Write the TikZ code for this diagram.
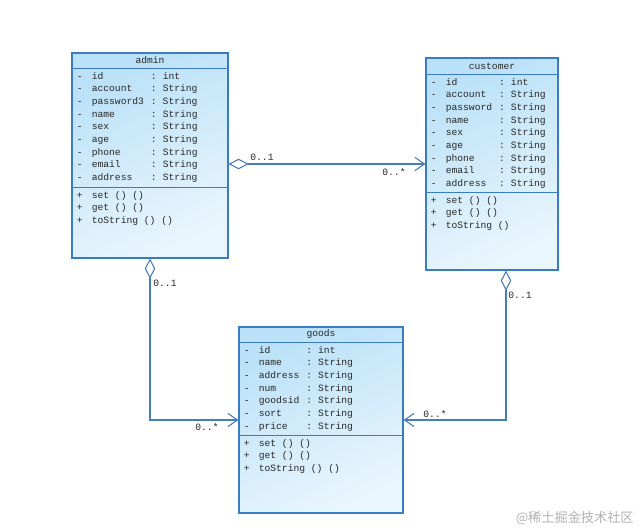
\documentclass[tikz,border=0pt]{standalone}
\usepackage{fontspec}
\setmonofont{Liberation Mono}
\newfontfamily\cjkfont{Noto Sans CJK SC}
\usetikzlibrary{positioning, arrows.meta}
\definecolor{umlblue}{RGB}{58,124,196}
\definecolor{umlfill}{RGB}{186,225,248}
\definecolor{umllight}{RGB}{234,246,253}
\definecolor{umltext}{RGB}{40,40,40}
\newenvironment{umlrows}{\begin{tabular}{@{}l@{\hspace{5.2pt}}l@{\hspace{4pt}}l@{\hspace{3.4pt}}l@{}}}{\end{tabular}}

\begin{document}
\begin{tikzpicture}[x=0.02cm, y=-0.02cm,
        umlclass/.style={draw=umlblue, line width=0.6pt, top color=umlfill,
            bottom color=umllight, shading angle=25, inner sep=0pt},
        umlline/.style={draw=umlblue, line width=0.6pt},
        umlhead/.style={font=\ttfamily\fontsize{5.5pt}{7.2pt}\selectfont, text=umltext, inner sep=0pt},
        members/.style={font=\ttfamily\fontsize{5.5pt}{7.2pt}\selectfont, text=umltext,
            inner sep=0pt, anchor=north west},
        mult/.style={font=\ttfamily\fontsize{5.5pt}{7.2pt}\selectfont, text=umltext, inner sep=0pt},
        assoc/.style={draw=umlblue!85!gray, line width=0.6pt,
            {Diamond[open, length=11.5pt, width=6pt]}-{Straight Barb[length=5.5pt, width=7.5pt]}}
    ]
    \useasboundingbox (0,0) rectangle (640,531);

    % admin
    \node[umlclass, minimum width=3.12cm, minimum height=4.1cm] (admin) at (150,155.5) {};
    \node[umlhead] (admin-name) at ([yshift=-0.16cm]admin.north) {admin};
    \draw[umlline] ([yshift=-0.32cm]admin.north west) -- ([yshift=-0.32cm]admin.north east);
    \draw[umlline] ([yshift=-2.7cm]admin.north west) -- ([yshift=-2.7cm]admin.north east);
    \node[members] (admin-attrs) at ([xshift=0.1cm, yshift=-0.35cm]admin.north west)
        {\begin{umlrows}
         - & id        & : & int\\
         - & account   & : & String\\
         - & password3 & : & String\\
         - & name      & : & String\\
         - & sex       & : & String\\
         - & age       & : & String\\
         - & phone     & : & String\\
         - & email     & : & String\\
         - & address   & : & String
         \end{umlrows}};
    \node[members] (admin-ops) at ([xshift=0.1cm, yshift=-2.73cm]admin.north west)
        {\begin{umlrows}
         + & set () ()\\
         + & get () ()\\
         + & toString () ()
         \end{umlrows}};

    % customer
    \node[umlclass, minimum width=2.64cm, minimum height=4.24cm] (customer) at (492,164) {};
    \node[umlhead] (customer-name) at ([yshift=-0.18cm]customer.north) {customer};
    \draw[umlline] ([yshift=-0.34cm]customer.north west) -- ([yshift=-0.34cm]customer.north east);
    \draw[umlline] ([yshift=-2.7cm]customer.north west) -- ([yshift=-2.7cm]customer.north east);
    \node[members] (customer-attrs) at ([xshift=0.1cm, yshift=-0.37cm]customer.north west)
        {\begin{umlrows}
         - & id       & : & int\\
         - & account  & : & String\\
         - & password & : & String\\
         - & name     & : & String\\
         - & sex      & : & String\\
         - & age      & : & String\\
         - & phone    & : & String\\
         - & email    & : & String\\
         - & address  & : & String
         \end{umlrows}};
    \node[members] (customer-ops) at ([xshift=0.1cm, yshift=-2.73cm]customer.north west)
        {\begin{umlrows}
         + & set () ()\\
         + & get () ()\\
         + & toString ()
         \end{umlrows}};

    % goods
    \node[umlclass, minimum width=3.28cm, minimum height=3.72cm] (goods) at (321,420) {};
    \node[umlhead] (goods-name) at ([yshift=-0.16cm]goods.north) {goods};
    \draw[umlline] ([yshift=-0.32cm]goods.north west) -- ([yshift=-0.32cm]goods.north east);
    \draw[umlline] ([yshift=-2.18cm]goods.north west) -- ([yshift=-2.18cm]goods.north east);
    \node[members] (goods-attrs) at ([xshift=0.1cm, yshift=-0.35cm]goods.north west)
        {\begin{umlrows}
         - & id      & : & int\\
         - & name    & : & String\\
         - & address & : & String\\
         - & num     & : & String\\
         - & goodsid & : & String\\
         - & sort    & : & String\\
         - & price   & : & String
         \end{umlrows}};
    \node[members] (goods-ops) at ([xshift=0.1cm, yshift=-2.21cm]goods.north west)
        {\begin{umlrows}
         + & set () ()\\
         + & get () ()\\
         + & toString () ()
         \end{umlrows}};

    % associations
    \draw[assoc] (customer.west -| admin.east) -- (customer.west);
    \draw[assoc] (admin.south) |- (goods.west);
    \draw[assoc] ([xshift=0.28cm]customer.south) |- (goods.east);

    \node[mult] (ac-one) at (262,157) {0..1};
    \node[mult] (ac-many) at (394,172) {0..*};
    \node[mult] (ag-one) at (165,283) {0..1};
    \node[mult] (ag-many) at (207,427) {0..*};
    \node[mult] (cg-one) at (520,295) {0..1};
    \node[mult] (cg-many) at (435,414) {0..*};

    % watermark
    \node[font=\cjkfont\fontsize{7.5pt}{8pt}\selectfont, text=black!30, anchor=east, inner sep=0pt]
        (mark) at (634,518) {@稀土掘金技术社区};
\end{tikzpicture}
\end{document}
